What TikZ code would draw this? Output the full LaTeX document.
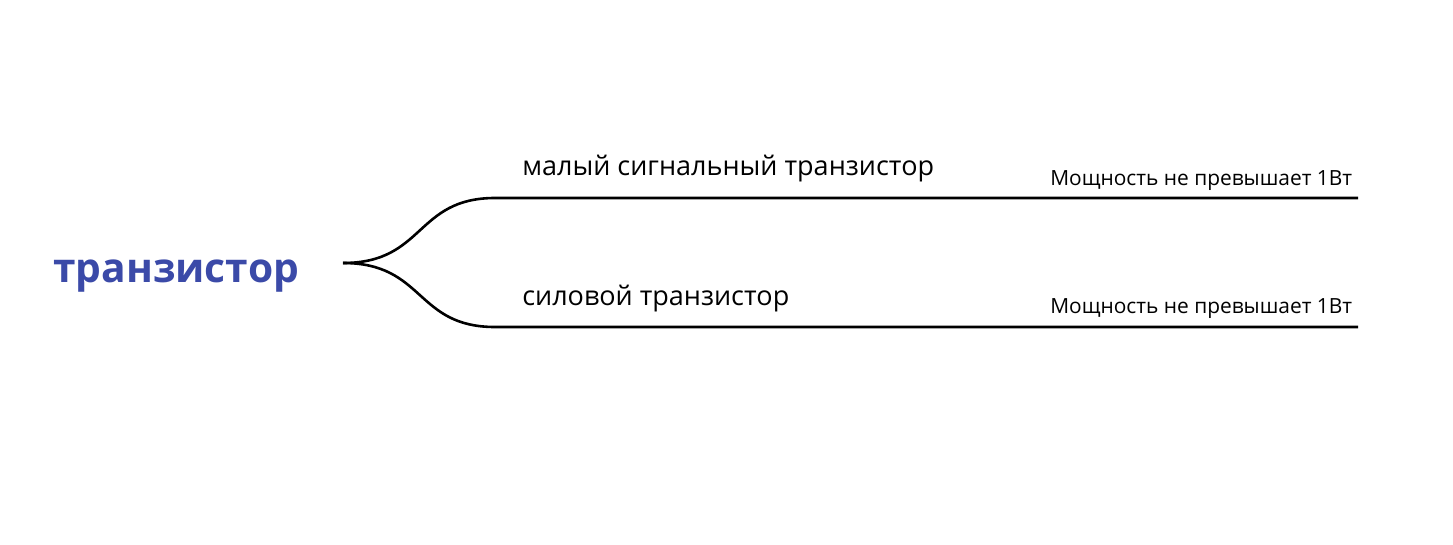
\documentclass[tikz,border=0pt]{standalone}
\usepackage{fontspec}
\setmainfont{Open Sans}
\usetikzlibrary{positioning}
\definecolor{rootblue}{RGB}{59,74,168}

\begin{document}
\begin{tikzpicture}[x=1pt, y=-1pt, line width=2.6pt,
    root/.style={font=\fontsize{40.7}{46}\selectfont\bfseries, text=rootblue, inner sep=0pt, anchor=base west},
    branch/.style={font=\fontsize{27}{32}\selectfont, inner sep=0pt, anchor=base west},
    note/.style={font=\fontsize{20.9}{24}\selectfont, inner sep=0pt, anchor=base west}]
    \useasboundingbox (0,0) rectangle (1453,544);
    % Root and fork
    \node[root] (tr) at (52,282) {транзистор};
    \coordinate (fork) at (343,263);
    % Branch ends
    \coordinate (b1) at (495,198);
    \coordinate (b1end) at (1358,198);
    \coordinate (b2) at (495,327);
    \coordinate (b2end) at (1358,327);
    % Labels
    \node[branch] (small) at (521,175) {малый сигнальный транзистор};
    \node[branch] (power) at (521,305) {силовой транзистор};
    \node[note] (n1) at (1049,185) {Мощность не превышает 1Вт};
    \node[note] (n2) at (1049,313) {Мощность не превышает 1Вт};
    % Connectors
    \draw (fork) .. controls (425,263) and (415,198) .. (b1) -- (b1end);
    \draw (fork) .. controls (425,263) and (415,327) .. (b2) -- (b2end);
\end{tikzpicture}
\end{document}
